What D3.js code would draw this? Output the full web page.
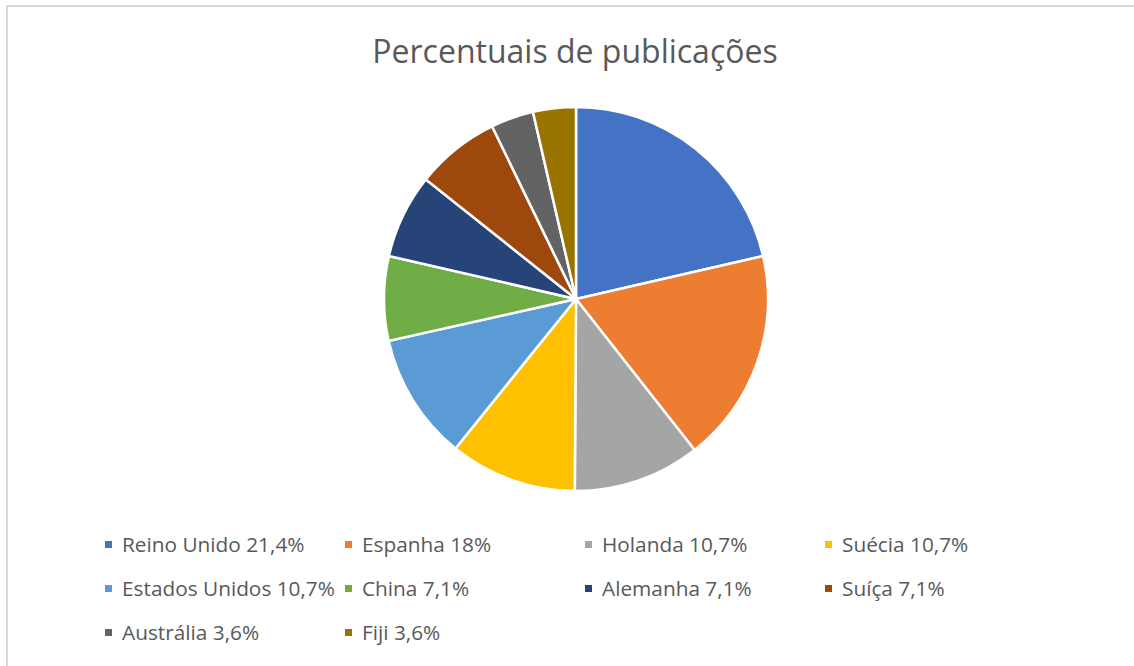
<!DOCTYPE html>
<meta charset="utf-8">
<style>
body { margin: 0; background: #fff; }
text { font-family: "Open Sans", sans-serif; fill: #595959; }
.slices path { stroke: #fff; stroke-width: 2.5px; }
</style>
<body>
<svg width="1134" height="666"></svg>
<script src="https://cdn.jsdelivr.net/npm/d3@7"></script>
<script>
// Percentuais por país
var countries = ["Reino Unido", "Espanha", "Holanda", "Suécia", "Estados Unidos",
                 "China", "Alemanha", "Suíça", "Austrália", "Fiji"];
var percents = [21.4, 18, 10.7, 10.7, 10.7, 7.1, 7.1, 7.1, 3.6, 3.6];
var colors = ["#4472C4", "#ED7D31", "#A5A5A5", "#FFC000", "#5B9BD5",
              "#70AD47", "#264478", "#9E480E", "#636363", "#997300"];

var svg = d3.select("svg");

// moldura do gráfico (cortada à direita e embaixo)
svg.append("rect")
    .attr("x", 7).attr("y", 6)
    .attr("width", 1160).attr("height", 700)
    .attr("fill", "none")
    .attr("stroke", "#d9d9d9")
    .attr("stroke-width", 2);

svg.append("text")
    .attr("x", 575).attr("y", 63)
    .attr("text-anchor", "middle")
    .style("font-size", "32px")
    .text("Percentuais de publicações");

var color = d3.scaleOrdinal().domain(countries).range(colors);

var data = countries.map(function(c, i) { return {name: c, value: percents[i]}; });

var pie = d3.pie().sort(null).value(function(d) { return d.value; });
var arc = d3.arc().innerRadius(0).outerRadius(192);

svg.append("g")
    .attr("class", "slices")
    .attr("transform", "translate(576,299)")
  .selectAll("path")
  .data(pie(data))
  .enter().append("path")
    .attr("d", arc)
    .attr("fill", function(d) { return color(d.data.name); });

// legenda: 4 colunas
function fmt(v) { return String(v).replace(".", ","); }

var legend = svg.append("g")
  .selectAll("g")
  .data(data)
  .enter().append("g")
    .attr("transform", function(d, i) {
      return "translate(" + (105 + (i % 4) * 240) + "," + (545 + Math.floor(i / 4) * 44) + ")";
    });

legend.append("rect")
    .attr("x", 0).attr("y", -4)
    .attr("width", 7).attr("height", 7)
    .attr("fill", function(d) { return color(d.name); });

legend.append("text")
    .attr("x", 17).attr("y", 7)
    .style("font-size", "20.8px")
    .text(function(d) { return d.name + " " + fmt(d.value) + "%"; });
</script>
